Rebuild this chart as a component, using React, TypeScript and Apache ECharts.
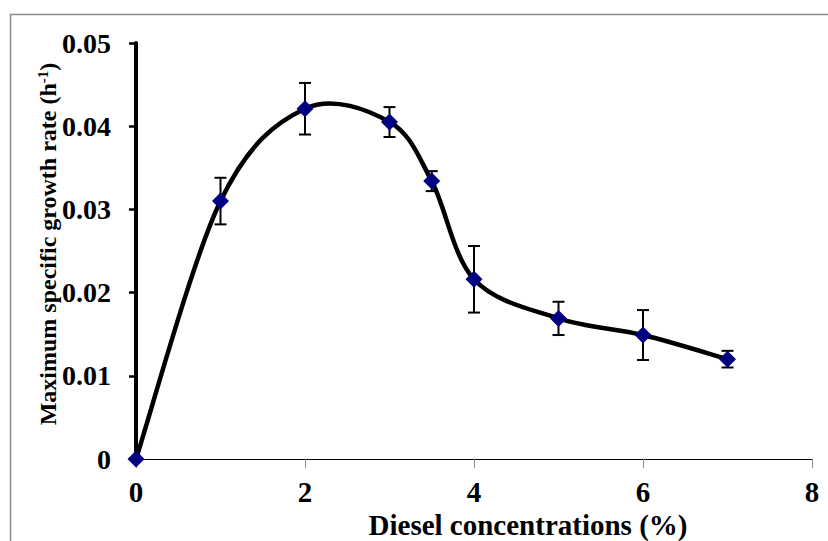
import React, { useEffect, useRef } from "react";
import * as echarts from "echarts";

const concentrations = [0, 1, 2, 3, 3.5, 4, 5, 6, 7];
const growthRates = [0, 0.031, 0.0421, 0.0405, 0.0334, 0.0216, 0.0169, 0.0149, 0.012];
const errors = [0, 0.0028, 0.0031, 0.0018, 0.0012, 0.004, 0.002, 0.003, 0.001];
const xTicks = [0, 2, 4, 6, 8];
const yTicks = [0, 0.01, 0.02, 0.03, 0.04, 0.05];

const FONT = "'Liberation Serif', 'Times New Roman', serif";

export default function App() {
  const ref = useRef<HTMLDivElement>(null);
  useEffect(() => {
    if (!ref.current) return;
    const chart = echarts.init(ref.current, null, { renderer: "svg" });
    const points = concentrations.map((x, i) => [x, growthRates[i]]);
    const errData = concentrations.map((x, i) => [x, growthRates[i] - errors[i], growthRates[i] + errors[i]]);

    chart.setOption({
      animation: false,
      backgroundColor: "#ffffff",
      grid: { left: 136, right: 16, top: 43, bottom: 82 },
      xAxis: {
        type: "value",
        min: xTicks[0],
        max: xTicks[xTicks.length - 1],
        interval: 2,
        splitLine: { show: false },
        axisLine: { show: true, onZero: false, lineStyle: { color: "#000", width: 1 } },
        axisTick: { show: true, length: 9, lineStyle: { color: "#888", width: 1 } },
        axisLabel: {
          margin: 18,
          fontFamily: FONT,
          fontWeight: "bold",
          fontSize: 29,
          color: "#000",
        },
      },
      yAxis: {
        type: "value",
        min: yTicks[0],
        max: yTicks[yTicks.length - 1],
        interval: 0.01,
        splitLine: { show: false },
        axisLine: { show: true, onZero: false, lineStyle: { color: "#000", width: 4 } },
        axisTick: { show: true, length: 7, lineStyle: { color: "#000", width: 2.5 } },
        axisLabel: {
          margin: 25,
          fontFamily: FONT,
          fontWeight: "bold",
          fontSize: 28,
          color: "#000",
          formatter: (v: number) => (v === 0 ? "0" : v.toFixed(2)),
        },
      },
      graphic: [
        {
          type: "rect",
          silent: true,
          shape: { x: 10.5, y: 14.5, width: 840, height: 560 },
          style: { fill: "none", stroke: "#8a8a8a", lineWidth: 1.5 },
          z: 0,
        },
        {
          type: "text",
          x: 528,
          y: 525,
          style: {
            text: "Diesel concentrations (%)",
            font: `bold 29px ${FONT}`,
            fill: "#000",
            textAlign: "center",
            textVerticalAlign: "middle",
          },
        },
        {
          type: "text",
          x: 48,
          y: 244,
          rotation: Math.PI / 2,
          style: {
            text: "{a|Maximum specific growth rate (h}{s|-1}{a|)}",
            textAlign: "center",
            textVerticalAlign: "middle",
            fill: "#000",
            rich: {
              a: { fontFamily: FONT, fontWeight: "bold", fontSize: 24, lineHeight: 26, fill: "#000" },
              s: { fontFamily: FONT, fontWeight: "bold", fontSize: 15, lineHeight: 26, verticalAlign: "top", fill: "#000" },
            },
          },
        },
      ],
      series: [
        {
          // smoothed curve (Catmull-Rom style, like a spreadsheet's smoothed line)
          type: "custom",
          data: points,
          z: 2,
          silent: true,
          renderItem: (params: any, api: any) => {
            if (params.dataIndex !== 0) return { type: "group", children: [] };
            const P = points.map((p) => api.coord(p));
            const n = P.length;
            let d = `M${P[0][0]},${P[0][1]}`;
            for (let i = 0; i < n - 1; i++) {
              const p0 = P[Math.max(i - 1, 0)];
              const p1 = P[i];
              const p2 = P[i + 1];
              const p3 = P[Math.min(i + 2, n - 1)];
              const c1x = p1[0] + (p2[0] - p0[0]) / 6;
              const c1y = p1[1] + (p2[1] - p0[1]) / 6;
              const c2x = p2[0] - (p3[0] - p1[0]) / 6;
              const c2y = p2[1] - (p3[1] - p1[1]) / 6;
              d += ` C${c1x},${c1y} ${c2x},${c2y} ${p2[0]},${p2[1]}`;
            }
            return {
              type: "path",
              shape: { pathData: d },
              style: { fill: "none", stroke: "#000", lineWidth: 4.5, lineJoin: "round", lineCap: "round" },
            };
          },
        },
        {
          type: "custom",
          data: errData,
          z: 3,
          renderItem: (params: any, api: any) => {
            const x = api.value(0);
            const lo = api.coord([x, api.value(1)]);
            const hi = api.coord([x, api.value(2)]);
            const hw = 6;
            const style = { stroke: "#000", lineWidth: 2 };
            return {
              type: "group",
              children: [
                { type: "line", shape: { x1: lo[0], y1: lo[1], x2: hi[0], y2: hi[1] }, style },
                { type: "line", shape: { x1: lo[0] - hw, y1: lo[1], x2: lo[0] + hw, y2: lo[1] }, style },
                { type: "line", shape: { x1: hi[0] - hw, y1: hi[1], x2: hi[0] + hw, y2: hi[1] }, style },
              ],
            };
          },
        },
        {
          type: "scatter",
          data: points,
          symbol: "diamond",
          symbolSize: 17,
          itemStyle: { color: "#000080", opacity: 1 },
          z: 4,
        },
      ],
    });
    return () => chart.dispose();
  }, []);
  return (
    <div
      ref={ref}
      style={{ position: "fixed", left: 0, top: 0, width: 828, height: 541 }}
    />
  );
}
